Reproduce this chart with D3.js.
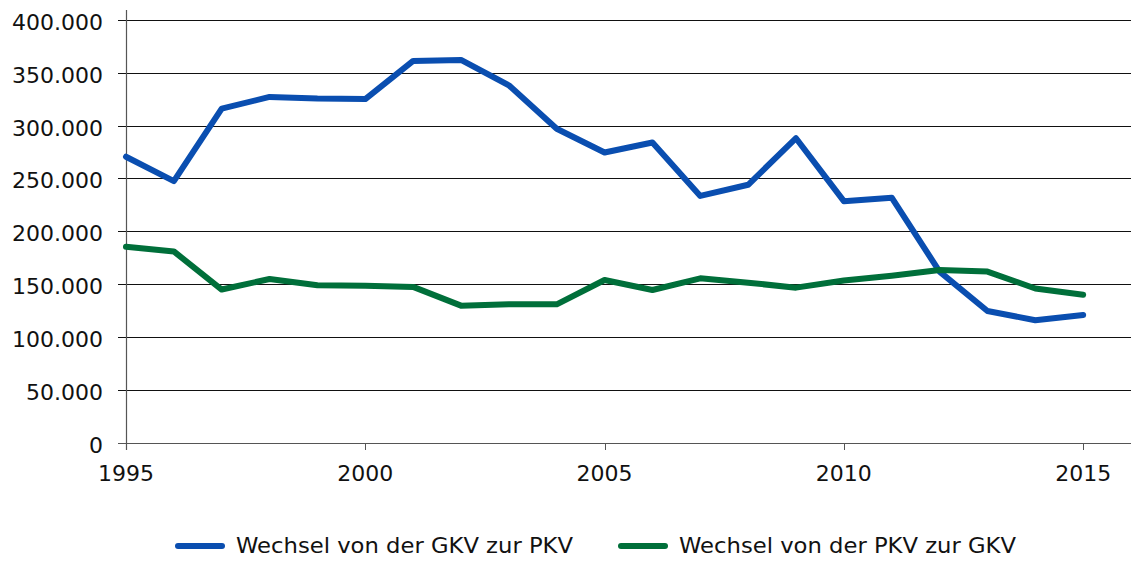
<!DOCTYPE html>
<html><head><meta charset="utf-8">
<script src="https://cdn.jsdelivr.net/npm/d3@7"></script>
<style>body{margin:0;background:#fff}svg{display:block}text{font-family:"DejaVu Sans",Verdana,sans-serif}</style>
</head><body>
<svg id="c" width="1131" height="561"></svg>
<script>
const years = d3.range(1995, 2016);
const gkvToPkv = [270500,247500,316000,327000,325500,325000,361000,362000,338000,297000,274500,284000,233500,244000,288000,228500,231800,162000,124700,116000,121000];
const pkvToGkv = [185500,181000,145000,155000,149000,148700,147500,129800,131000,131000,154000,144600,155600,151500,146800,153500,158000,163500,162000,146000,140000];
const yTicks = [0,50000,100000,150000,200000,250000,300000,350000,400000];
const xTicks = [1995,2000,2005,2010,2015];
const seriesNames = ["Wechsel von der GKV zur PKV","Wechsel von der PKV zur GKV"];
const colors = ["#0a4eb0","#006f3a"];

const svg = d3.select("#c");
const x = d3.scaleLinear().domain([1995,2016]).range([126,1131]);
const y = d3.scaleLinear().domain([0,400000]).range([443,19.7]);
const fmt = v => d3.format(",")(v).replace(/,/g,".");

// gridlines
svg.append("g").selectAll("line").data(yTicks).join("line")
  .attr("x1",118).attr("x2",1131)
  .attr("y1",d=>Math.round(y(d))+0.5).attr("y2",d=>Math.round(y(d))+0.5)
  .attr("stroke",d=>d===0?"#555":"#111").attr("stroke-width",1);

// y axis line
svg.append("line").attr("x1",126.5).attr("x2",126.5).attr("y1",10).attr("y2",450)
  .attr("stroke","#555").attr("stroke-width",1.2);

// x ticks
svg.append("g").selectAll("line").data(xTicks).join("line")
  .attr("x1",d=>Math.round(x(d))+0.5).attr("x2",d=>Math.round(x(d))+0.5)
  .attr("y1",443).attr("y2",450).attr("stroke","#555");

// y labels
svg.append("g").selectAll("text").data(yTicks).join("text")
  .attr("x",103).attr("y",d=>y(d)+10).attr("text-anchor","end")
  .attr("font-size",22).attr("fill","#111").text(d=>fmt(d));

// x labels
svg.append("g").selectAll("text").data(xTicks).join("text")
  .attr("x",d=>x(d)).attr("y",481).attr("text-anchor","middle")
  .attr("font-size",22).attr("fill","#111").text(d=>d);

const line = d3.line().x((d,i)=>x(years[i])).y(d=>y(d));
[gkvToPkv,pkvToGkv].forEach((s,k)=>{
  svg.append("path").datum(s).attr("d",line).attr("fill","none")
    .attr("stroke",colors[k]).attr("stroke-width",6)
    .attr("stroke-linejoin","round").attr("stroke-linecap","round");
});

// legend
const legX = [175,618];
seriesNames.forEach((n,k)=>{
  svg.append("line").attr("x1",legX[k]+3).attr("x2",legX[k]+47).attr("y1",546).attr("y2",546)
    .attr("stroke",colors[k]).attr("stroke-width",6).attr("stroke-linecap","round");
  svg.append("text").attr("x",legX[k]+61).attr("y",553).attr("font-size",21)
    .attr("fill","#111").attr("textLength",337).attr("lengthAdjust","spacingAndGlyphs").text(n);
});
</script>
</body></html>
